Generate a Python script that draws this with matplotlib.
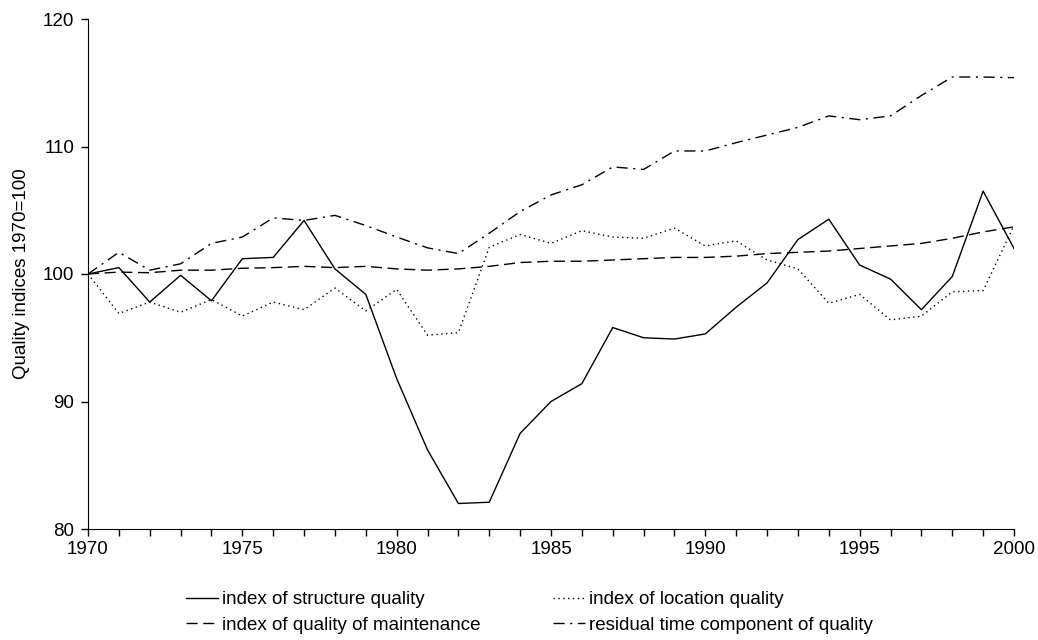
import matplotlib.pyplot as plt
import numpy as np

plt.rcParams['font.family'] = ['Liberation Sans', 'DejaVu Sans']

years = np.arange(1970, 2001)

# index values, 1970 = 100
structure = [100.0, 100.5, 97.8, 99.9, 97.9, 101.2, 101.3, 104.2, 100.4, 98.4,
             91.8, 86.2, 82.0, 82.1, 87.5, 90.0, 91.4, 95.8, 95.0, 94.9,
             95.3, 97.4, 99.3, 102.7, 104.3, 100.7, 99.6, 97.2, 99.8, 106.5,
             102.0]
location = [100.0, 96.9, 97.8, 97.0, 98.0, 96.7, 97.8, 97.2, 98.9, 97.1,
            98.8, 95.2, 95.4, 102.1, 103.1, 102.4, 103.4, 102.9, 102.8, 103.6,
            102.2, 102.6, 101.1, 100.4, 97.7, 98.4, 96.4, 96.7, 98.6, 98.7,
            103.8]
maintenance = [100.0, 100.15, 100.1, 100.3, 100.3, 100.45, 100.5, 100.6, 100.5, 100.6,
               100.4, 100.3, 100.4, 100.6, 100.9, 101.0, 101.0, 101.1, 101.2, 101.3,
               101.3, 101.4, 101.6, 101.7, 101.8, 102.0, 102.2, 102.4, 102.8, 103.3,
               103.7]
residual = [100.0, 101.7, 100.3, 100.8, 102.4, 102.9, 104.4, 104.2, 104.6, 103.8,
            102.9, 102.05, 101.6, 103.2, 104.9, 106.2, 107.0, 108.4, 108.2, 109.65,
            109.65, 110.3, 110.9, 111.5, 112.4, 112.1, 112.4, 114.0, 115.45, 115.45,
            115.4]

labels = ['index of structure quality', 'index of location quality',
          'index of quality of maintenance', 'residual time component of quality']

fs = 13.5

fig = plt.figure(figsize=(10.38, 6.4), dpi=100)
ax = fig.add_axes([88 / 1038, 1 - 529 / 640, 926 / 1038, 510 / 640])

lw = 1.0
l1, = ax.plot(years, structure, color='black', lw=lw, linestyle='-', label=labels[0])
l2, = ax.plot(years, location, color='black', lw=lw, linestyle=(0, (1, 2.5)), label=labels[1])
l3, = ax.plot(years, maintenance, color='black', lw=lw, linestyle=(0, (8, 4)), label=labels[2])
l4, = ax.plot(years, residual, color='black', lw=lw, linestyle=(0, (8, 4, 1.5, 4)), label=labels[3])

ax.set_xlim(1970, 2000)
ax.set_ylim(80, 120)
ax.set_xticks(np.arange(1970, 2001, 5))
ax.set_xticks(years, minor=True)
ax.set_yticks(np.arange(80, 121, 10))
ax.tick_params(axis='both', which='both', direction='out', length=5, width=1, labelsize=fs)
ax.tick_params(axis='x', which='major', pad=4)
ax.tick_params(axis='y', which='major', pad=5)
ax.spines['top'].set_visible(False)
ax.spines['right'].set_visible(False)
ax.set_ylabel('Quality indices 1970=100', fontsize=fs)
ax.yaxis.set_label_coords(-0.063, 0.5)

# legend in two columns below the plot, no frame
fig.legend([l1, l3, l2, l4], [labels[0], labels[2], labels[1], labels[3]],
           ncol=2, frameon=False, loc='upper left',
           bbox_to_anchor=(186 / 1038, 1 - 591 / 640),
           borderaxespad=0, borderpad=0, handlelength=1.7, handletextpad=0.2,
           columnspacing=3.9, labelspacing=0.45, fontsize=fs)

fig.savefig('out.png', dpi=100)
